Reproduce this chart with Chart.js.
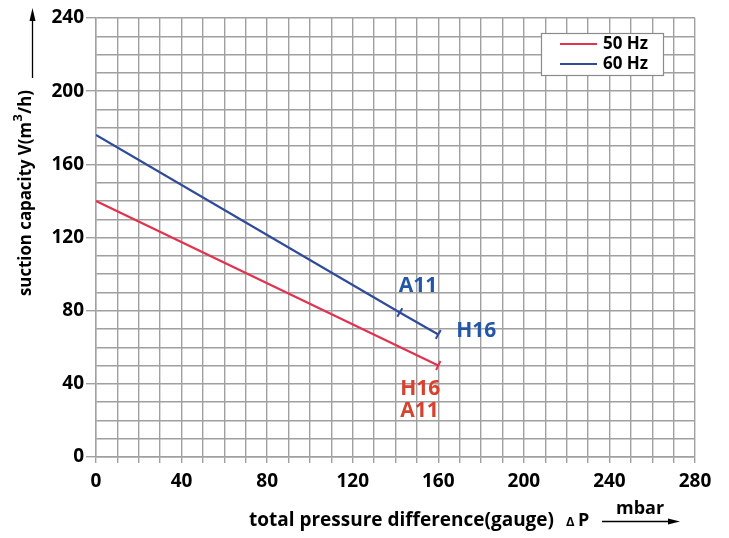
<!DOCTYPE html>
<html>
<head>
<meta charset="utf-8">
<script src="https://cdn.jsdelivr.net/npm/chart.js@4/dist/chart.umd.min.js"></script>
<style>
html,body{margin:0;padding:0;background:#fff;}
#wrap{width:729px;height:538px;position:relative;}
</style>
</head>
<body>
<div id="wrap"><canvas id="c" width="729" height="538"></canvas></div>
<script>
// ---- data ----
const seriesNames = ['50 Hz', '60 Hz'];
const x50 = [0, 160];
const y50 = [140, 50];
const marks50 = ['', 'H16\nA11'];
const x60 = [0, 142, 160];
const y60 = [176, 79, 67];
const marks60 = ['', 'A11', 'H16'];
const xTickLabels = [0, 40, 80, 120, 160, 200, 240, 280];
const yTickLabels = [0, 40, 80, 120, 160, 200, 240];
const xTitle = 'total pressure difference(gauge)';
const yTitle = 'suction capacity V(m';
const unitX = 'mbar';

const RED = '#e0334f', BLUE = '#2f4b9a';
const RED_T = '#d8412e', BLUE_T = '#2456a8';
const GRID = '#a0a0a0';
const FONT = '"Open Sans", "DejaVu Sans", sans-serif';

function pts(xs, ys){ return xs.map((x,i)=>({x:x, y:ys[i]})); }

const overlay = {
  id:'overlay',
  afterDraw(chart){
    const ctx = chart.ctx, xs = chart.scales.x, ys = chart.scales.y;
    ctx.save();
    // point labels
    ctx.font = 'bold 21px ' + FONT;
    ctx.textBaseline = 'middle';
    ctx.textAlign = 'left';
    ctx.fillStyle = BLUE_T;
    ctx.fillText(marks60[1], xs.getPixelForValue(x60[1]) - 1, ys.getPixelForValue(y60[1]) - 26);
    ctx.fillText(marks60[2], xs.getPixelForValue(x60[2]) + 18, ys.getPixelForValue(y60[2]) - 3);
    ctx.fillStyle = RED_T;
    const rl = marks50[1].split('\n');
    ctx.fillText(rl[0], xs.getPixelForValue(x50[1]) - 38, ys.getPixelForValue(y50[1]) + 23);
    ctx.fillText(rl[1], xs.getPixelForValue(x50[1]) - 38, ys.getPixelForValue(y50[1]) + 45);

    // legend box
    ctx.fillStyle = '#fff';
    ctx.fillRect(541, 33, 122, 42);
    ctx.strokeStyle = '#8a8a8a';
    ctx.lineWidth = 1.2;
    ctx.strokeRect(541.5, 33.5, 122, 42);
    ctx.lineWidth = 2;
    [[RED, 44, seriesNames[0]], [BLUE, 64, seriesNames[1]]].forEach(([c, y, t])=>{
      ctx.strokeStyle = c;
      ctx.beginPath(); ctx.moveTo(560, y); ctx.lineTo(597, y); ctx.stroke();
      ctx.fillStyle = '#000';
      ctx.font = 'bold 17px ' + FONT;
      ctx.textAlign = 'left';
      ctx.fillText(t, 603, y);
    });

    // x title
    ctx.fillStyle = '#000';
    ctx.font = 'bold 19px ' + FONT;
    ctx.textAlign = 'left';
    ctx.fillText(xTitle, 249, 521, 305);
    ctx.font = 'bold 13px ' + FONT;
    ctx.fillText('\u0394', 566, 522);
    ctx.font = 'bold 18px ' + FONT;
    ctx.fillText('P', 578, 521);
    ctx.font = 'bold 18px ' + FONT;
    ctx.fillText(unitX, 616, 509);
    ctx.strokeStyle = '#000';
    ctx.lineWidth = 1.3;
    ctx.beginPath(); ctx.moveTo(602, 521.5); ctx.lineTo(672, 521.5); ctx.stroke();
    ctx.fillStyle = '#000';
    ctx.beginPath(); ctx.moveTo(680, 521.5); ctx.lineTo(668, 518.5); ctx.lineTo(668, 524.5); ctx.closePath(); ctx.fill();

    // y title (rotated)
    ctx.save();
    ctx.translate(26, 296);
    ctx.rotate(-Math.PI/2);
    ctx.font = 'bold 17px ' + FONT;
    ctx.textAlign = 'left';
    ctx.textBaseline = 'middle';
    ctx.fillStyle = '#000';
    const parts = [yTitle, '3', '/h)'];
    let w0 = ctx.measureText(parts[0]).width;
    ctx.font = 'bold 13px ' + FONT;
    let w1 = ctx.measureText(parts[1]).width + 1;
    ctx.font = 'bold 17px ' + FONT;
    let w2 = ctx.measureText(parts[2]).width;
    const sc = Math.min(1, 206 / (w0 + w1 + w2));
    ctx.scale(sc, 1);
    ctx.fillText(parts[0], 0, 0);
    ctx.font = 'bold 13px ' + FONT;
    ctx.fillText(parts[1], w0 + 0.5, -8);
    ctx.font = 'bold 17px ' + FONT;
    ctx.fillText(parts[2], w0 + w1, 0);
    ctx.restore();
    // y arrow
    ctx.strokeStyle = '#000';
    ctx.lineWidth = 1.3;
    ctx.beginPath(); ctx.moveTo(32.5, 78); ctx.lineTo(32.5, 18); ctx.stroke();
    ctx.beginPath(); ctx.moveTo(32.5, 8); ctx.lineTo(29.5, 21); ctx.lineTo(35.5, 21); ctx.closePath(); ctx.fill();
    ctx.restore();
  }
};

const fitY = s => { s.width = 96; };
const fitX = s => { s.height = 81; };

new Chart(document.getElementById('c'), {
  type: 'line',
  data: {
    datasets: [
      { label: seriesNames[0], data: pts(x50, y50), borderColor: RED, backgroundColor: RED,
        borderWidth: 2.2, pointStyle: 'line', pointRadius: [0, 5], pointBorderWidth: 2,
        pointRotation: 116, pointBorderColor: RED, tension: 0, fill: false },
      { label: seriesNames[1], data: pts(x60, y60), borderColor: BLUE, backgroundColor: BLUE,
        borderWidth: 2.2, pointStyle: 'line', pointRadius: [0, 5, 5], pointBorderWidth: 2,
        pointRotation: 120, pointBorderColor: BLUE, tension: 0, fill: false }
    ]
  },
  options: {
    responsive: false,
    animation: false,
    devicePixelRatio: 1,
    layout: { padding: { top: 18, right: 34, left: 0, bottom: 0 } },
    plugins: { legend: { display: false }, tooltip: { enabled: false } },
    scales: {
      x: {
        type: 'linear', min: 0, max: 280,
        afterFit: fitX,
        border: { color: GRID, width: 1.4 },
        grid: { color: GRID, lineWidth: 1.4, tickLength: 6, tickColor: GRID },
        ticks: { stepSize: 10, autoSkip: false, maxRotation: 0, padding: 7, color: '#000',
          font: { family: FONT, size: 19, weight: 'bold' },
          callback: v => xTickLabels.includes(v) ? String(v) : '' }
      },
      y: {
        type: 'linear', min: 0, max: 240,
        afterFit: fitY,
        border: { color: GRID, width: 1.4 },
        grid: { color: GRID, lineWidth: 1.4, tickLength: 10,
          tickColor: c => (c.tick && yTickLabels.includes(c.tick.value)) ? GRID : 'rgba(0,0,0,0)' },
        ticks: { stepSize: 10, autoSkip: false, padding: 2, color: '#000',
          font: { family: FONT, size: 19, weight: 'bold' },
          callback: v => yTickLabels.includes(v) ? String(v) : '' }
      }
    }
  },
  plugins: [overlay]
});
</script>
</body>
</html>
